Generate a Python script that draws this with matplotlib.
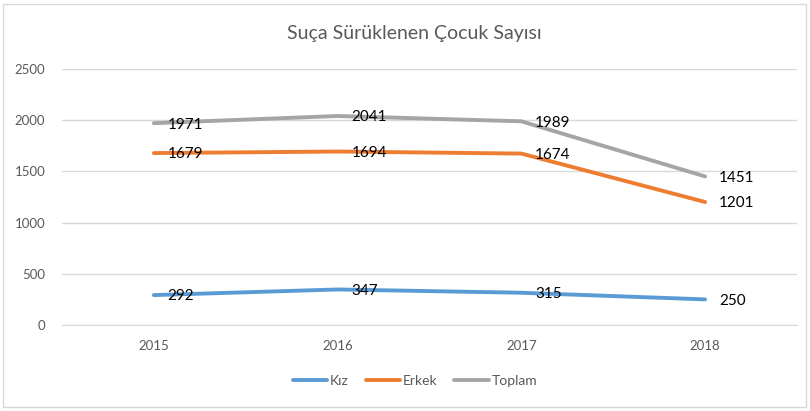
import matplotlib.pyplot as plt
from matplotlib.patches import Rectangle

plt.rcParams['font.family'] = ['Lato', 'DejaVu Sans']

years = ['2015', '2016', '2017', '2018']
kiz = [292, 347, 315, 250]
erkek = [1679, 1694, 1674, 1201]
toplam = [1971, 2041, 1989, 1451]

series = [('Kız', kiz, '#5B9BD5'), ('Erkek', erkek, '#ED7D31'), ('Toplam', toplam, '#A5A5A5')]

fig = plt.figure(figsize=(8.1, 4.11), dpi=100)
ax = fig.add_axes([62 / 810, 1 - 325 / 411, 735 / 810, 256 / 411])

# chart frame
fig.patches.append(Rectangle((3 / 810, 4 / 411), 803 / 810, 403 / 411, transform=fig.transFigure,
                             fill=False, edgecolor='#D9D9D9', linewidth=1))

x = list(range(len(years)))
for name, vals, col in series:
    ax.plot(x, vals, color=col, linewidth=2.8, label=name, solid_capstyle='round')
    for xi, v in zip(x, vals):
        ax.annotate(str(v), (xi, v), xytext=(10, -1), textcoords='offset points',
                    ha='left', va='center', fontsize=11, color='black')

ax.set_xlim(-0.5, 3.5)
ax.set_ylim(0, 2500)
ax.set_yticks(range(0, 2501, 500))
ax.set_xticks(x)
ax.set_xticklabels(years)
ax.grid(axis='y', color='#D9D9D9', linewidth=1)
ax.set_axisbelow(True)
for s in ['top', 'right', 'left']:
    ax.spines[s].set_visible(False)
ax.spines['bottom'].set_color('#D9D9D9')
ax.tick_params(axis='both', length=0, labelsize=9.5, colors='#595959')
ax.tick_params(axis='y', pad=12)
ax.tick_params(axis='x', pad=11)

fig.text(0.512, 1 - 33 / 411, 'Suça Sürüklenen Çocuk Sayısı', ha='center', va='center',
         fontsize=14, color='#595959')

fig.legend(loc='center', bbox_to_anchor=(415 / 810, 1 - 381 / 411), ncol=3, frameon=False,
           fontsize=10, labelcolor='#595959', handlelength=2.5, handletextpad=0.2, columnspacing=1.2)

fig.savefig('out.png', dpi=100)
